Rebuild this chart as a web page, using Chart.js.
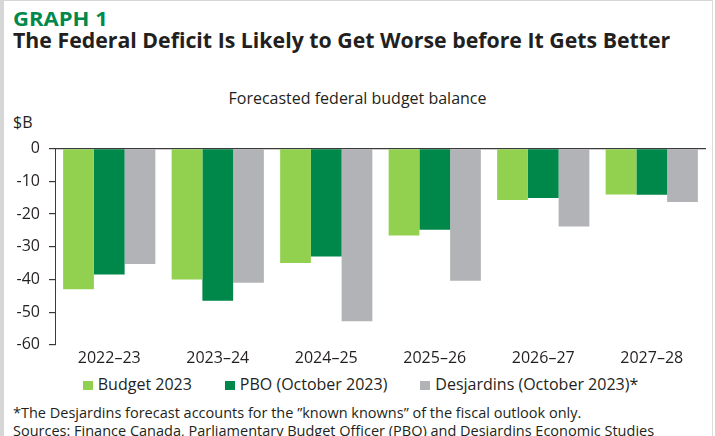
<!DOCTYPE html>
<html>
<head>
<meta charset="utf-8">
<script src="https://cdn.jsdelivr.net/npm/chart.js@4"></script>
<style>
  html, body { margin: 0; padding: 0; }
  body {
    width: 715px; height: 436px; position: relative; overflow: hidden;
    background: #ffffff; font-family: "Open Sans", sans-serif; color: #231f20;
  }
  .frame-left { position: absolute; left: 0; top: 0; width: 4px; height: 436px; background: #d6d6d6; }
  .frame-top { position: absolute; left: 0; top: 0; width: 713px; height: 1px; background: #d6d6d6; }
  .frame-right { position: absolute; left: 712px; top: 0; width: 1px; height: 436px; background: #dcdcdc; }
  .kicker { position: absolute; left: 13px; top: 10px; font-size: 19px; line-height: 1; font-weight: 700; color: #00894b;
            transform: scale(1.16, 1); transform-origin: left top; white-space: nowrap; }
  .title { position: absolute; left: 13px; top: 29px; font-size: 21.3px; line-height: 1; font-weight: 700; color: #231f20; white-space: nowrap; }
  .subtitle { position: absolute; left: 0; width: 715px; top: 90px; line-height: 1; text-align: center; font-size: 16px; }
  .unit { position: absolute; left: 13px; top: 114px; line-height: 1; font-size: 16px; }
  #wrap { position: absolute; left: 0; top: 130px; width: 715px; height: 243px; }
  .legend { position: absolute; left: 0; width: 721px; top: 376px; display: flex; justify-content: center; gap: 33px; font-size: 16px; line-height: 1; }
  .legend span.item { display: flex; align-items: baseline; white-space: nowrap; }
  .legend span.box { display: inline-block; width: 10px; height: 9px; margin-right: 5px; }
  .note { position: absolute; left: 13px; font-size: 14.5px; line-height: 1; white-space: nowrap; }
</style>
</head>
<body>
<div class="frame-left"></div>
<div class="frame-top"></div>
<div class="frame-right"></div>
<div class="kicker">GRAPH 1</div>
<div class="title">The Federal Deficit Is Likely to Get Worse before It Gets Better</div>
<div class="subtitle">Forecasted federal budget balance</div>
<div class="unit">$B</div>
<div id="wrap"><canvas id="c"></canvas></div>
<div class="legend" id="legend"></div>
<div class="note" style="top:406px">*The Desjardins forecast accounts for the ”known knowns” of the fiscal outlook only.</div>
<div class="note" style="top:424px">Sources: Finance Canada, Parliamentary Budget Officer (PBO) and Desjardins Economic Studies</div>
<script>
// Fiscal years and balances in billions of dollars
const categories = ['2022–23', '2023–24', '2024–25', '2025–26', '2026–27', '2027–28'];
const budget2023 = [-43.0, -40.0, -35.0, -26.6, -15.7, -14.0];
const pboOct2023 = [-38.5, -46.5, -33.0, -24.8, -15.1, -14.1];
const desjardinsOct2023 = [-35.3, -41.0, -52.8, -40.4, -23.8, -16.3];
const yTicks = [0, -10, -20, -30, -40, -50, -60];

const seriesNames = ['Budget 2023', 'PBO (October 2023)', 'Desjardins (October 2023)*'];
const seriesColors = ['#92d050', '#00884a', '#b2b3b6'];
const seriesData = [budget2023, pboOct2023, desjardinsOct2023];

// legend row
const legendEl = document.getElementById('legend');
seriesNames.forEach((name, i) => {
  const item = document.createElement('span');
  item.className = 'item';
  const box = document.createElement('span');
  box.className = 'box';
  box.style.background = seriesColors[i];
  item.appendChild(box);
  item.appendChild(document.createTextNode(name));
  legendEl.appendChild(item);
});

const axisColor = '#3a3a3a';
const tickFont = { family: 'Open Sans', size: 16 };

new Chart(document.getElementById('c'), {
  type: 'bar',
  data: {
    labels: categories,
    datasets: seriesData.map((values, i) => ({
      label: seriesNames[i],
      data: values,
      backgroundColor: seriesColors[i],
      borderWidth: 0,
      categoryPercentage: 0.85,
      barPercentage: 1.0
    }))
  },
  options: {
    responsive: true,
    maintainAspectRatio: false,
    animation: false,
    layout: { padding: { top: 18, right: 9, bottom: 1, left: 0 } },
    plugins: { legend: { display: false }, tooltip: { enabled: false } },
    scales: {
      x: {
        grid: { display: false, drawTicks: false, tickLength: 0 },
        border: { display: false },
        ticks: { color: '#231f20', font: tickFont, padding: 4, maxRotation: 0 }
      },
      y: {
        min: -60,
        max: 0,
        z: 1,
        afterFit: (scale) => { scale.width = 55; },
        afterBuildTicks: (scale) => { scale.ticks = yTicks.map(v => ({ value: v })); },
        border: { display: true, color: axisColor, width: 1 },
        grid: {
          drawOnChartArea: true,
          color: (ctx) => (ctx.tick && ctx.tick.value === 0 ? axisColor : 'rgba(0,0,0,0)'),
          tickColor: axisColor,
          tickLength: 6,
          lineWidth: 1.2
        },
        ticks: { color: '#231f20', font: tickFont, padding: 9 }
      }
    }
  }
});
</script>
</body>
</html>
